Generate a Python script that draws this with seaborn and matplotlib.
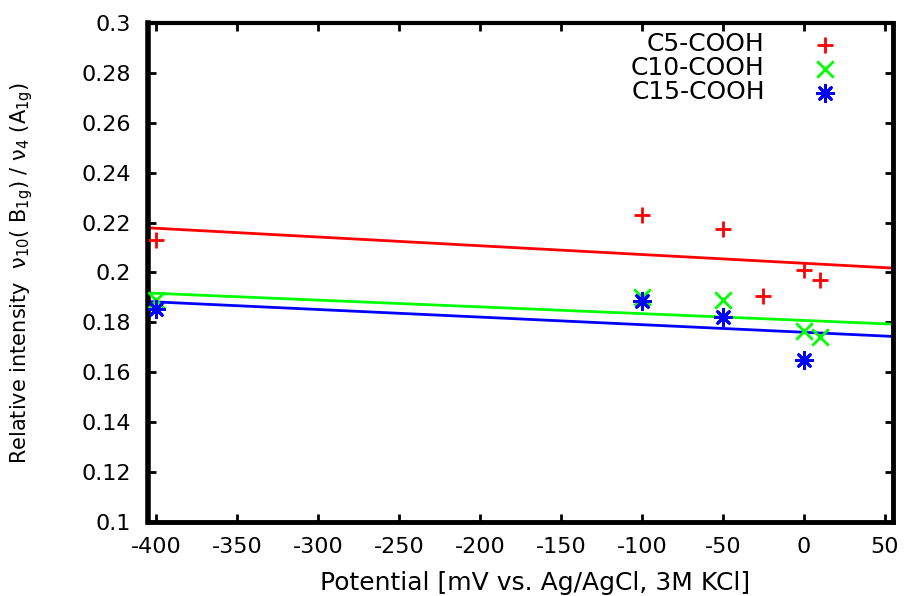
import seaborn as sns
import matplotlib.pyplot as plt
import pandas as pd
import numpy as np
from matplotlib.ticker import FuncFormatter, MultipleLocator

sns.set_style("ticks")
plt.rcParams['font.family'] = ['DejaVu Sans']
plt.rcParams['mathtext.default'] = 'regular'
plt.rcParams['axes.unicode_minus'] = False
for key in ['text.color', 'axes.labelcolor', 'xtick.color', 'ytick.color', 'axes.edgecolor']:
    plt.rcParams[key] = 'black'

# relative intensity nu10(B1g)/nu4(A1g) vs. potential
c5_potential = [-400, -100, -50, -25, 0, 10]
c5_ratio = [0.213, 0.223, 0.2175, 0.1905, 0.201, 0.197]
c10_potential = [-400, -100, -50, 0, 10]
c10_ratio = [0.189, 0.190, 0.189, 0.1766, 0.174]
c15_potential = [-400, -100, -50, 0]
c15_ratio = [0.1853, 0.1884, 0.1822, 0.165]

series = [
    ("C5-COOH", c5_potential, c5_ratio, "#ff0000", "+"),
    ("C10-COOH", c10_potential, c10_ratio, "#00ff00", "x"),
    ("C15-COOH", c15_potential, c15_ratio, "#0000ff", (8, 2, 0)),
]

fig = plt.figure(figsize=(9.05, 5.96), dpi=100)
ax = fig.add_axes([0.1635, 0.1242, 0.8232, 0.8372])
ax.set_xlim(-405, 55)
ax.set_ylim(0.1, 0.3)

for name, x, y, color, marker in series:
    df = pd.DataFrame({"potential": x, "ratio": y})
    sns.regplot(data=df, x="potential", y="ratio", ax=ax, ci=None, truncate=False,
                color=color, marker=marker, label=name,
                scatter_kws={"s": 140, "linewidths": 2, "alpha": 1, "zorder": 3},
                line_kws={"lw": 2})

ax.set_xlim(-405, 55)
ax.set_ylim(0.1, 0.3)
ax.xaxis.set_major_locator(MultipleLocator(50))
ax.yaxis.set_major_locator(MultipleLocator(0.02))
ax.yaxis.set_major_formatter(FuncFormatter(lambda v, p: f"{v:g}"))

ax.tick_params(direction='in', length=6, width=2, top=True, right=True, labelsize=16)
ax.tick_params(axis='x', pad=10.5)
ax.tick_params(axis='y', pad=12.5)
for side, lw in [('left', 4), ('bottom', 3.5), ('right', 3.5), ('top', 3)]:
    ax.spines[side].set_visible(True)
    ax.spines[side].set_linewidth(lw)
    ax.spines[side].set_color('black')

ax.set_xlabel("Potential [mV vs. Ag/AgCl, 3M KCl]", fontsize=18)
ax.set_ylabel(r"Relative intensity  ν$_{10}$( B$_{1g}$) / ν$_{4}$ (A$_{1g}$)", fontsize=15)
ax.xaxis.set_label_coords(0.519, -0.098)
ax.yaxis.set_label_coords(-0.151, 0.5)

ax.legend(loc='upper right', bbox_to_anchor=(0.942, 0.981), markerfirst=False, frameon=False,
          fontsize=18, handletextpad=1.4, handlelength=2, labelspacing=0.0,
          borderaxespad=0, borderpad=0, scatterpoints=1)

plt.savefig('out.png', dpi=100)
plt.close()
